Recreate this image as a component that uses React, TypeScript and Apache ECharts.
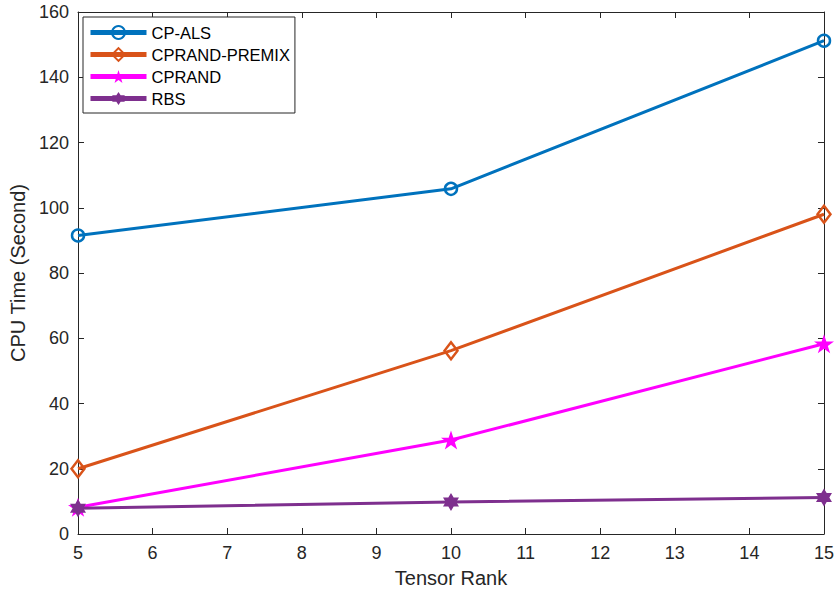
import React, { useEffect, useRef } from "react";
import * as echarts from "echarts";

const ranks = [5, 10, 15];
const cpAls = [91.5, 105.8, 151.2];
const cprandPremix = [20, 56.2, 98];
const cprand = [8.2, 28.8, 58.3];
const rbs = [7.9, 9.8, 11.2];
const seriesNames = ["CP-ALS", "CPRAND-PREMIX", "CPRAND", "RBS"];
const colors = ["#0072BD", "#D95319", "#FF00FF", "#7E2F8E"];

const pentagram =
  "path://M0,-10 L2.245,-3.09 L9.511,-3.09 L3.633,1.18 L5.878,8.09 L0,3.82 L-5.878,8.09 L-3.633,1.18 L-9.511,-3.09 L-2.245,-3.09 Z";
const hexagram =
  "path://M0,-10 L2.887,-5 L8.66,-5 L5.774,0 L8.66,5 L2.887,5 L0,10 L-2.887,5 L-8.66,5 L-5.774,0 L-8.66,-5 L-2.887,-5 Z";

const FONT = "Liberation Sans, Arial, Helvetica, sans-serif";
const AXIS_COLOR = "#262626";

export default function App() {
  const ref = useRef<HTMLDivElement>(null);
  useEffect(() => {
    if (!ref.current) return;
    const chart = echarts.init(ref.current, undefined, { renderer: "svg" });
    const toPairs = (vals: number[]) => ranks.map((r, i) => [r, vals[i]]);
    const base = (idx: number) => ({
      type: "line" as const,
      name: seriesNames[idx],
      xAxisIndex: 0,
      yAxisIndex: 0,
      lineStyle: { color: colors[idx], width: 3 },
      showAllSymbol: true,
      z: 10 + idx,
    });
    const axisCommon = {
      type: "value" as const,
      splitLine: { show: false },
      axisLine: { show: true, onZero: false, lineStyle: { color: AXIS_COLOR, width: 1 } },
      axisTick: { show: true, inside: true, length: 6, lineStyle: { color: AXIS_COLOR } },
    };
    chart.setOption({
      animation: false,
      backgroundColor: "#ffffff",
      textStyle: { fontFamily: FONT },
      grid: { left: 78, right: 12, top: 12, bottom: 61, containLabel: false },
      legend: {
        left: 83,
        top: 17,
        orient: "vertical",
        backgroundColor: "#ffffff",
        borderColor: AXIS_COLOR,
        borderWidth: 1,
        padding: [7, 5, 6, 5],
        itemWidth: 56,
        itemHeight: 16,
        itemGap: 5,
        lineStyle: { width: 5 },
        textStyle: { fontSize: 16.5, color: "#000000", fontFamily: FONT },
        data: seriesNames,
        z: 50,
      },
      xAxis: [
        {
          ...axisCommon,
          min: 5,
          max: 15,
          interval: 1,
          name: "Tensor Rank",
          nameLocation: "middle",
          nameGap: 34,
          nameTextStyle: { fontSize: 20, color: AXIS_COLOR, fontFamily: FONT },
          axisLabel: { fontSize: 18, color: AXIS_COLOR, margin: 10, fontFamily: FONT },
        },
        {
          ...axisCommon,
          position: "top",
          min: 5,
          max: 15,
          interval: 1,
          axisLabel: { show: false },
        },
      ],
      yAxis: [
        {
          ...axisCommon,
          min: 0,
          max: 160,
          interval: 20,
          name: "CPU Time (Second)",
          nameLocation: "middle",
          nameGap: 42,
          nameRotate: 90,
          nameTextStyle: { fontSize: 20, color: AXIS_COLOR, fontFamily: FONT },
          axisLabel: { fontSize: 18, color: AXIS_COLOR, margin: 9, fontFamily: FONT },
        },
        {
          ...axisCommon,
          position: "right",
          min: 0,
          max: 160,
          interval: 20,
          axisLabel: { show: false },
        },
      ],
      series: [
        {
          ...base(0),
          data: toPairs(cpAls),
          symbol: "circle",
          symbolSize: 12,
          itemStyle: { color: "rgba(255,255,255,0)", borderColor: colors[0], borderWidth: 2.5 },
        },
        {
          ...base(1),
          data: toPairs(cprandPremix),
          symbol: "diamond",
          symbolSize: [13, 17],
          itemStyle: { color: "rgba(255,255,255,0)", borderColor: colors[1], borderWidth: 2.5 },
        },
        {
          ...base(2),
          data: toPairs(cprand),
          symbol: pentagram,
          symbolSize: [20, 19],
          itemStyle: { color: colors[2], borderColor: colors[2], borderWidth: 0 },
        },
        {
          ...base(3),
          data: toPairs(rbs),
          symbol: hexagram,
          symbolSize: [16, 18],
          itemStyle: { color: colors[3], borderColor: colors[3], borderWidth: 0 },
        },
      ],
    });
    return () => chart.dispose();
  }, []);
  return (
    <div
      ref={ref}
      style={{ position: "absolute", left: 0, top: 0, width: 837, height: 595 }}
    />
  );
}
